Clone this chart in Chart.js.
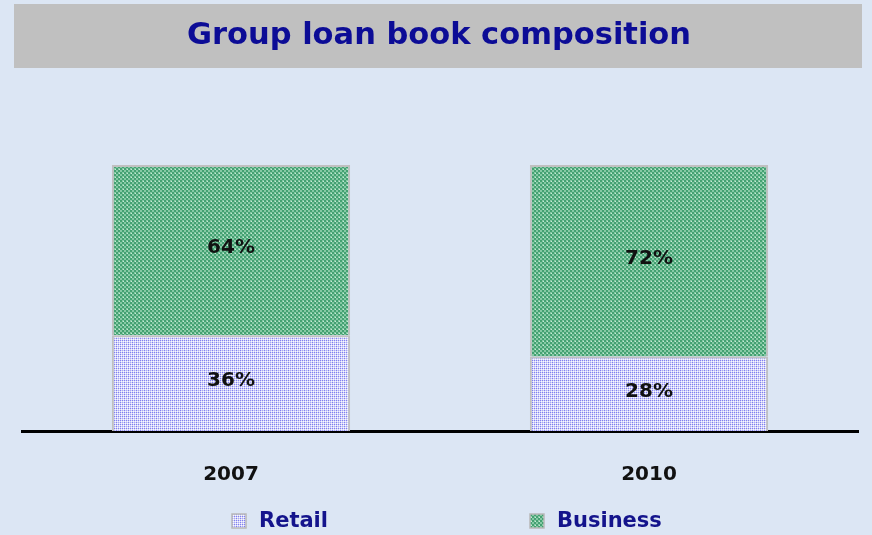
<!DOCTYPE html>
<html>
<head>
<meta charset="utf-8">
<script src="https://cdn.jsdelivr.net/npm/chart.js@4.4.1/dist/chart.umd.min.js"></script>
<style>
  html, body { margin: 0; padding: 0; background: #dce6f4; }
  #wrap { width: 872px; height: 535px; }
</style>
</head>
<body>
<div id="wrap"><canvas id="c" width="872" height="535"></canvas></div>
<script>
// Loan book split by year (percent of total)
const years = ['2007', '2010'];
const retailShare = [36, 28];
const businessShare = [64, 72];
const seriesNames = ['Retail', 'Business'];
const chartTitle = 'Group loan book composition';

// Small tiled fills for the two segments
function makePattern(cells, size) {
  const p = document.createElement('canvas');
  p.width = size; p.height = size;
  const g = p.getContext('2d');
  for (let y = 0; y < size; y++) {
    for (let x = 0; x < size; x++) {
      g.fillStyle = cells(x, y);
      g.fillRect(x, y, 1, 1);
    }
  }
  return g.createPattern(p, 'repeat');
}
const ctx = document.getElementById('c').getContext('2d');
const greenFill = makePattern((x, y) => {
  const dark = ((Math.floor(x / 2) + Math.floor(y / 2)) % 2) === 0;
  if (x === 3 && y === 1) return '#c8eAd6';
  return dark ? '#44a172' : '#86c9a5';
}, 4);
const retailFill = makePattern((x, y) => {
  if (x % 2 === 0 && y % 2 === 0) return (x === 0 || y === 0) ? '#8080f0' : '#a8a8f4';
  if (x % 2 === 0 || y % 2 === 0) return '#d4d4f8';
  return '#f8f8ff';
}, 4);

const FONT = "'DejaVu Sans', Verdana, sans-serif";

const framePlugin = {
  id: 'frame',
  beforeDraw(chart) {
    const c = chart.ctx;
    c.save();
    c.fillStyle = '#dce6f4';
    c.fillRect(0, 0, chart.width, chart.height);
    c.fillStyle = '#c0c0c0';
    c.fillRect(14, 4, 848, 64);
    c.fillStyle = '#0c0c96';
    c.font = 'bold 30.5px ' + FONT;
    c.textAlign = 'center';
    c.textBaseline = 'middle';
    c.fillText(chartTitle, 439, 36);
    c.restore();
  },
  afterDatasetsDraw(chart) {
    const c = chart.ctx;
    c.save();
    c.font = 'bold 20px ' + FONT;
    c.fillStyle = '#111111';
    c.textAlign = 'center';
    c.textBaseline = 'middle';
    chart.data.datasets.forEach((ds, i) => {
      chart.getDatasetMeta(i).data.forEach((bar, j) => {
        const pt = bar.getCenterPoint();
        c.fillText(ds.data[j] + '%', pt.x, pt.y - 2);
      });
    });
    // legend
    c.font = 'bold 21px ' + FONT;
    c.textAlign = 'left';
    const items = [{ x: 232 }, { x: 530 }];
    chart.data.datasets.forEach((ds, i) => {
      const bx = items[i].x, by = 514;
      c.fillStyle = ds.backgroundColor;
      c.fillRect(bx, by, 14, 14);
      c.strokeStyle = '#b8b8b8';
      c.lineWidth = 1.5;
      c.strokeRect(bx, by, 14, 14);
      c.fillStyle = '#14148c';
      c.fillText(ds.label, bx + 27, by + 8);
    });
    c.restore();
  }
};

new Chart(ctx, {
  type: 'bar',
  data: {
    labels: years,
    datasets: [
      { label: seriesNames[0], data: retailShare, backgroundColor: retailFill,
        borderColor: '#c0c0c0', borderWidth: 2, borderSkipped: 'bottom' },
      { label: seriesNames[1], data: businessShare, backgroundColor: greenFill,
        borderColor: '#c0c0c0', borderWidth: 2, borderSkipped: 'bottom' }
    ]
  },
  options: {
    responsive: false,
    animation: false,
    devicePixelRatio: 1,
    layout: { padding: { top: 165, left: 22, right: 14, bottom: 0 } },
    plugins: { legend: { display: false }, title: { display: false }, tooltip: { enabled: false } },
    datasets: { bar: { categoryPercentage: 1, barPercentage: 0.57 } },
    scales: {
      x: {
        stacked: true,
        grid: { display: false, drawTicks: false },
        border: { display: true, color: '#000000', width: 3 },
        ticks: { color: '#111111', font: { family: FONT, size: 20, weight: 'bold' }, padding: 32 },
        afterFit(scale) { scale.height = 104; }
      },
      y: { stacked: true, display: false, min: 0, max: 100 }
    }
  },
  plugins: [framePlugin]
});
</script>
</body>
</html>
